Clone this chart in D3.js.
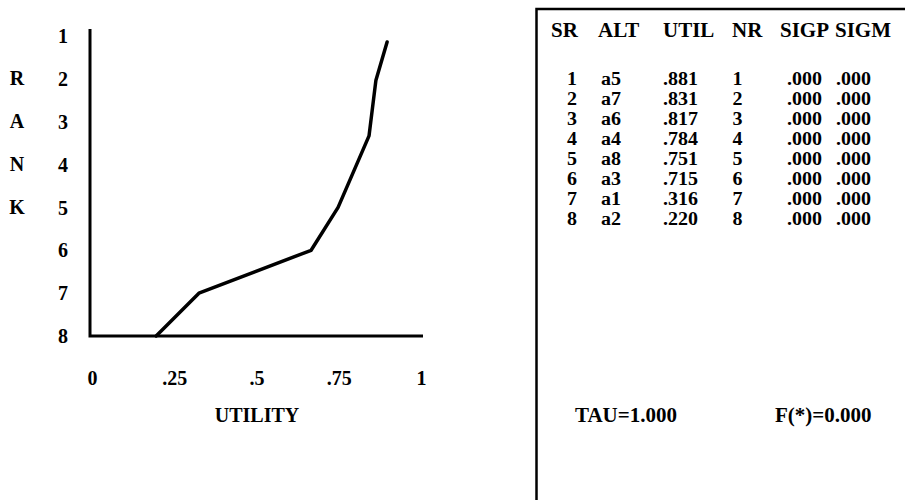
<!DOCTYPE html>
<html>
<head>
<meta charset="utf-8">
<script src="https://cdn.jsdelivr.net/npm/d3@7"></script>
<style>
  html, body { margin: 0; padding: 0; background: #fff; }
  svg text { font-family: "Liberation Serif", "Times New Roman", serif; font-weight: bold; fill: #000; }
</style>
</head>
<body>
<svg id="chart" width="905" height="500"></svg>
<script>
// ---- data ----
const ranks = [1, 2, 3, 4, 5, 6, 7, 8];
const rankLetters = ["R", "A", "N", "K"];
const xTickValues = [0, 0.25, 0.5, 0.75, 1];
const xTickLabels = ["0", ".25", ".5", ".75", "1"];
// plotted polyline (utility, rank)
const curveUtility = [0.195, 0.325, 0.666, 0.748, 0.842, 0.863, 0.897];
const curveRank = [8, 7, 6, 5, 3.33, 2.03, 1.14];
// table
const tableHeaders = ["SR", "ALT", "UTIL", "NR", "SIGP", "SIGM"];
const colSR = [1, 2, 3, 4, 5, 6, 7, 8];
const colALT = ["a5", "a7", "a6", "a4", "a8", "a3", "a1", "a2"];
const colUTIL = [0.881, 0.831, 0.817, 0.784, 0.751, 0.715, 0.316, 0.220];
const colNR = [1, 2, 3, 4, 5, 6, 7, 8];
const colSIGP = [0, 0, 0, 0, 0, 0, 0, 0];
const colSIGM = [0, 0, 0, 0, 0, 0, 0, 0];
const tauText = "TAU=1.000";
const fText = "F(*)=0.000";
const xTitle = "UTILITY";

// ---- layout ----
const svg = d3.select("#chart");
const FS = 20;
const x = d3.scaleLinear().domain([0, 1]).range([92, 421]);
const y = d3.scaleLinear().domain([1, 8]).range([36, 336]);
const axisX0 = 90, axisYBottom = y(8);

const g = svg.append("g");

// axis lines
g.append("path")
  .attr("d", d3.line()([[axisX0, y(1) - 7], [axisX0, axisYBottom], [x(1) + 2, axisYBottom]]))
  .attr("fill", "none").attr("stroke", "#000").attr("stroke-width", 3)
  .attr("stroke-linejoin", "miter");

// y tick labels (ranks)
const yAxis = d3.axisLeft(y).tickValues(ranks).tickSize(0).tickPadding(0).tickFormat(d3.format("d"));
const yg = svg.append("g").attr("transform", `translate(${axisX0},0)`).call(yAxis);
yg.select(".domain").remove();
yg.selectAll("text")
  .attr("x", -27).attr("dy", "0.33em")
  .attr("text-anchor", "middle")
  .style("font-family", '"Liberation Serif", serif').style("font-weight", "bold")
  .style("font-size", FS + "px").attr("fill", "#000");

// RANK letters
g.selectAll("text.rankL").data(rankLetters).enter().append("text")
  .attr("class", "rankL")
  .attr("x", 17).attr("y", (d, i) => y(ranks[i + 1]))
  .attr("dy", "0.33em").attr("text-anchor", "middle")
  .style("font-size", FS + "px")
  .text(d => d);

// x tick labels
const xAxis = d3.axisBottom(x).tickValues(xTickValues).tickSize(0).tickPadding(0)
  .tickFormat((d, i) => xTickLabels[i]);
const xg = svg.append("g").attr("transform", `translate(0,${axisYBottom})`).call(xAxis);
xg.select(".domain").remove();
xg.selectAll("text")
  .attr("y", 49).attr("dy", 0)
  .style("font-family", '"Liberation Serif", serif').style("font-weight", "bold")
  .style("font-size", FS + "px").attr("fill", "#000");

// x title
g.append("text").attr("x", 257).attr("y", 422).attr("text-anchor", "middle")
  .style("font-size", FS + "px").text(xTitle);

// curve
const pts = curveUtility.map((u, i) => [x(u), y(curveRank[i])]);
g.append("path")
  .attr("d", d3.line()(pts))
  .attr("fill", "none").attr("stroke", "#000").attr("stroke-width", 3.5)
  .attr("stroke-linejoin", "round").attr("stroke-linecap", "round");

// ---- right panel ----
const panelX = 536.5, panelY = 9;
g.append("path")
  .attr("d", d3.line()([[panelX, 500], [panelX, panelY], [905, panelY]]))
  .attr("fill", "none").attr("stroke", "#000").attr("stroke-width", 2.5);

const headerX = [551, 598, 663, 732, 780, 835];
g.selectAll("text.hdr").data(tableHeaders).enter().append("text")
  .attr("class", "hdr")
  .attr("x", (d, i) => headerX[i]).attr("y", 37)
  .style("font-size", "21px").text(d => d);

const rowY = d3.scaleLinear().domain([0, 7]).range([85, 225]);
const fmt3 = v => d3.format(".3f")(v).replace(/^0\./, ".");
const cols = [
  { vals: colSR, x: 572, anchor: "middle", f: d => d },
  { vals: colALT, x: 601, anchor: "start", f: d => d },
  { vals: colUTIL, x: 663, anchor: "start", f: fmt3 },
  { vals: colNR, x: 737.5, anchor: "middle", f: d => d },
  { vals: colSIGP, x: 787, anchor: "start", f: fmt3 },
  { vals: colSIGM, x: 836, anchor: "start", f: fmt3 }
];
const ROWFS = 18, STRETCH = 1.11;
cols.forEach(c => {
  g.append("g").selectAll("text").data(c.vals).enter().append("text")
    .attr("x", c.x).attr("y", (d, i) => rowY(i))
    .attr("text-anchor", c.anchor)
    .style("font-size", ROWFS + "px")
    .text(c.f)
    .each(function () {
      const w = this.getComputedTextLength();
      d3.select(this).attr("textLength", w * STRETCH).attr("lengthAdjust", "spacingAndGlyphs");
    });
});

g.append("text").attr("x", 575).attr("y", 422).style("font-size", "21px").text(tauText);
g.append("text").attr("x", 775).attr("y", 422).style("font-size", "21px").text(fText);
</script>
</body>
</html>
